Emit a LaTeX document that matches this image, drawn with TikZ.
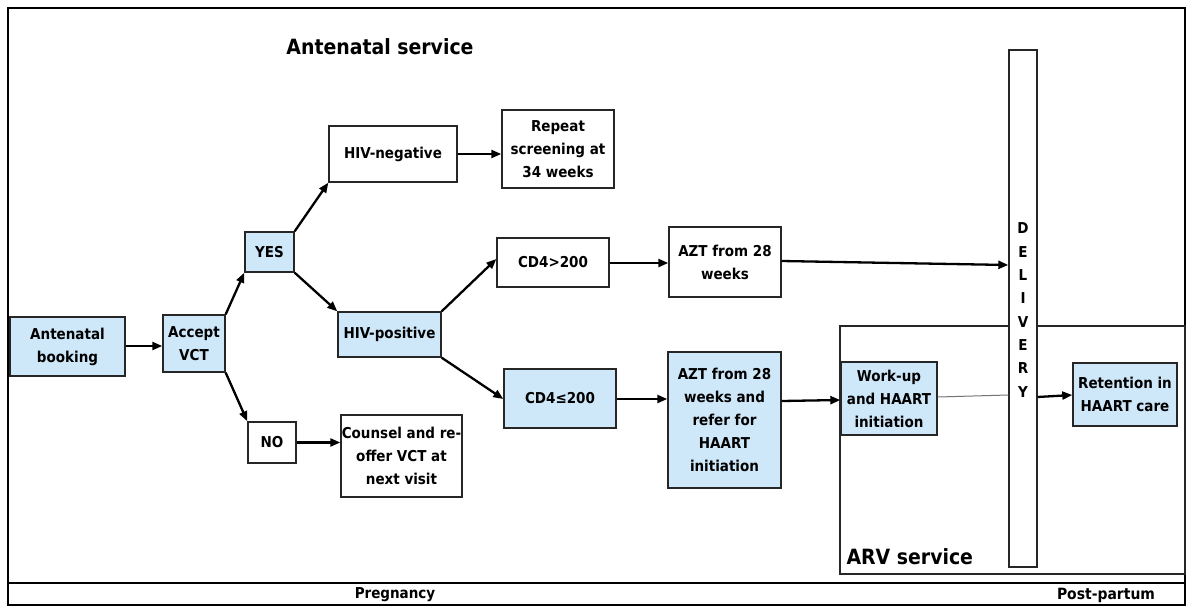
\documentclass[tikz,border=0pt]{standalone}
\usepackage{fontspec}
\setmainfont{DejaVu Sans Condensed}
\usetikzlibrary{arrows.meta}
\definecolor{lblue}{RGB}{206,232,250}
\tikzset{
  box/.style={draw=black!85, line width=1.4pt, align=center, inner sep=0pt,
    font=\bfseries\fontsize{15}{23}\selectfont},
  bluebox/.style={box, fill=lblue},
  arr/.style={line width=2.3pt, -{Triangle[length=10pt,width=8pt]}},
}
\begin{document}
\begin{tikzpicture}[x=1pt,y=-1pt]
\useasboundingbox (0,0) rectangle (1187,608);
% frame
\draw[line width=2.5pt] (8,8) rectangle (1185,605);
\draw[line width=2.5pt] (8,583) -- (1185,583);
\node[font=\bfseries\fontsize{15}{17}\selectfont] (preg) at (395,595) {Pregnancy};
\node[font=\bfseries\fontsize{15.5}{17}\selectfont] (post) at (1106,595) {Post-partum};
\node[font=\bfseries\fontsize{21}{24}\selectfont] (title) at (380,47) {Antenatal service};
% ARV box
\draw[line width=1.4pt, draw=black!85] (840,326) rectangle (1185,574);
\node[anchor=west, font=\bfseries\fontsize{21}{24}\selectfont] (arvlbl) at (843,557) {ARV service};
% delivery bar
\node[box, fill=white, minimum width=28pt, minimum height=517pt] (deliv) at (1023,308.5) {};
\node[font=\bfseries\fontsize{15}{23.3}\selectfont, align=center] (dtext) at (1023,310) {D\\E\\L\\I\\V\\E\\R\\Y};
% nodes
\node[bluebox, minimum width=115pt, minimum height=59pt] (book) at (67.5,346.5) {Antenatal\\booking};
\node[bluebox, minimum width=62pt, minimum height=57pt] (acc) at (194,343.5) {Accept\\VCT};
\node[bluebox, minimum width=49pt, minimum height=40pt] (yes) at (269.5,252) {YES};
\node[box, minimum width=128pt, minimum height=56pt] (neg) at (393,154) {HIV-negative};
\node[box, minimum width=112pt, minimum height=78pt] (rep) at (558,149) {Repeat\\screening at\\34 weeks};
\node[box, minimum width=112pt, minimum height=49pt] (gt) at (553,262.5) {CD4>200};
\node[bluebox, minimum width=103pt, minimum height=45pt] (pos) at (389.5,334.5) {HIV-positive};
\node[bluebox, minimum width=112pt, minimum height=59pt] (le) at (560,398.5) {CD4≤200};
\node[box, minimum width=48pt, minimum height=41pt] (no) at (272,442.5) {NO};
\node[box, minimum width=121pt, minimum height=82pt] (coun) at (401.5,456) {Counsel and re-\\offer VCT at\\next visit};
\node[box, minimum width=112pt, minimum height=70pt] (azta) at (725,262) {AZT from 28\\weeks};
\node[bluebox, minimum width=113pt, minimum height=136pt] (aztb) at (724.5,420) {AZT from 28\\weeks and\\refer for\\HAART\\initiation};
\node[bluebox, minimum width=96pt, minimum height=73pt] (work) at (889,398.5) {Work-up\\and HAART\\initiation};
\node[bluebox, minimum width=104pt, minimum height=63pt] (ret) at (1125,394.5) {Retention in\\HAART care};
% connectors
\draw[arr] (book.east |- 0,346) -- (acc.west |- 0,346);
\draw[arr] (acc.north east) -- (yes.south west);
\draw[arr] (acc.south east) -- (no.north west);
\draw[arr] (yes.north east) -- (neg.south west);
\draw[arr] (yes.south east) -- (pos.north west);
\draw[arr] (neg.east) -- (rep.west |- neg.east);
\draw[arr] (pos.north east) -- (gt.west |- 0,259);
\draw[arr] (pos.south east) -- (le.west |- 0,399);
\draw[arr] (no.east) -- (coun.west |- no.east);
\draw[arr] (gt.east |- 0,263) -- (azta.west |- 0,263);
\draw[arr] (azta.east |- 0,261) -- (deliv.west |- 0,265);
\draw[arr] (le.east |- 0,399) -- (aztb.west |- 0,399);
\draw[arr] (aztb.east |- 0,401) -- (work.west |- 0,400);
\draw[line width=1pt, draw=black!55] (work.east |- 0,397) -- (deliv.west |- 0,395);
\draw[arr] (deliv.east |- 0,397) -- (ret.west |- 0,395);
\end{tikzpicture}
\end{document}
